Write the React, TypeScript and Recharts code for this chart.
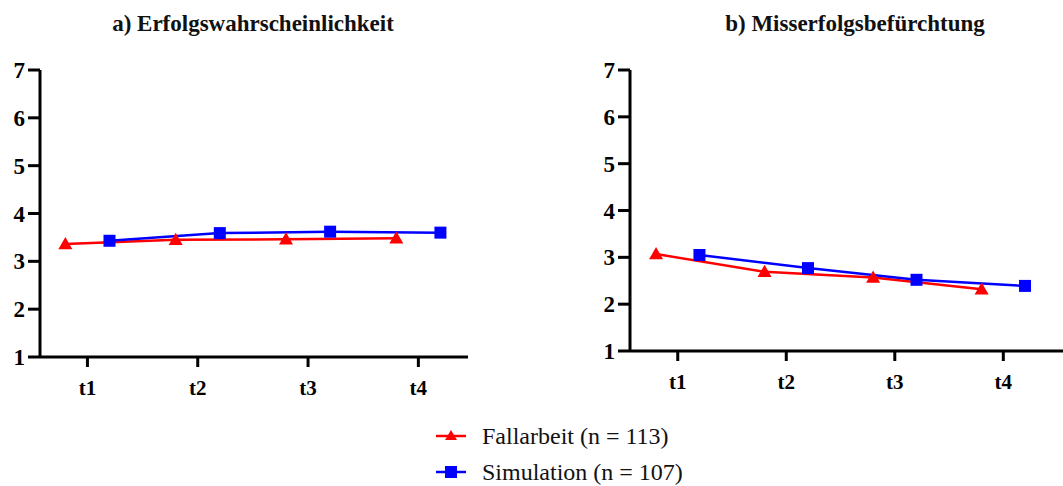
import { LineChart, Line, XAxis, YAxis } from 'recharts'

const timepoints = ['t1', 't2', 't3', 't4']
const yTicks = [1, 2, 3, 4, 5, 6, 7]

// a) Erfolgswahrscheinlichkeit
const erfolgFallarbeit = [3.36, 3.45, 3.46, 3.48]
const erfolgSimulation = [3.43, 3.59, 3.62, 3.6]

// b) Misserfolgsbefürchtung
const misserfolgFallarbeit = [3.07, 2.69, 2.57, 2.32]
const misserfolgSimulation = [3.05, 2.77, 2.52, 2.39]

const RED = '#ff0000'
const BLUE = '#0000ff'
const FONT = "'Liberation Serif', 'Times New Roman', serif"

// groups are dodged left/right of each time point
const toPoints = (vals: number[], shift: number) =>
  vals.map((y, i) => ({ x: i + 1 + shift, y }))

function TriangleDot(props: any) {
  const { cx, cy } = props
  if (cx == null || cy == null) return null
  const s = 7
  return (
    <polygon
      points={`${cx},${cy - s} ${cx - s},${cy + s * 0.75} ${cx + s},${cy + s * 0.75}`}
      fill={RED}
    />
  )
}

function SquareDot(props: any) {
  const { cx, cy } = props
  if (cx == null || cy == null) return null
  const s = 6
  return <rect x={cx - s} y={cy - s} width={s * 2} height={s * 2} fill={BLUE} />
}

const renderXTick = (props: any) => {
  const { x, y, payload } = props
  return (
    <text x={x} y={y + 22} textAnchor="middle" fill="#000"
      fontFamily={FONT} fontSize={21} fontWeight={700}>
      {timepoints[payload.value - 1]}
    </text>
  )
}

const renderYTick = (props: any) => {
  const { x, y, payload } = props
  return (
    <text x={x} y={y + 8} textAnchor="end" fill="#000"
      fontFamily={FONT} fontSize={23} fontWeight={700}>
      {payload.value}
    </text>
  )
}

interface PanelProps {
  red: number[]
  blue: number[]
  width: number
  height: number
  yWidth: number
  xDomain: [number, number]
  rightMargin: number
}

function Panel({ red, blue, width, height, yWidth, xDomain, rightMargin }: PanelProps) {
  const axisStyle = { stroke: '#000', strokeWidth: 3 }
  return (
    <LineChart width={width} height={height} margin={{ top: 70, right: rightMargin, left: 0, bottom: 0 }}>
      <XAxis
        type="number"
        dataKey="x"
        domain={xDomain}
        allowDataOverflow
        ticks={[1, 2, 3, 4]}
        axisLine={axisStyle}
        tickLine={axisStyle}
        tickSize={10}
        tickMargin={6}
        height={43}
        tick={renderXTick}
      />
      <YAxis
        type="number"
        domain={[1, 7]}
        ticks={yTicks}
        width={yWidth}
        axisLine={axisStyle}
        tickLine={axisStyle}
        tickSize={12}
        tickMargin={3}
        tick={renderYTick}
      />
      <Line
        data={toPoints(red, -0.2)}
        dataKey="y"
        stroke={RED}
        strokeWidth={2.5}
        dot={<TriangleDot />}
        isAnimationActive={false}
      />
      <Line
        data={toPoints(blue, 0.2)}
        dataKey="y"
        stroke={BLUE}
        strokeWidth={2.5}
        dot={<SquareDot />}
        isAnimationActive={false}
      />
    </LineChart>
  )
}

function LegendRow({ color, shape, label, top }: { color: string; shape: 'tri' | 'sq'; label: string; top: number }) {
  return (
    <div style={{ position: 'absolute', left: 434, top, height: 26, display: 'flex', alignItems: 'center' }}>
      <svg width={34} height={20}>
        <line x1={2} y1={10} x2={32} y2={10} stroke={color} strokeWidth={2.5} />
        {shape === 'tri' ? (
          <polygon points="17,4 11,14 23,14" fill={color} />
        ) : (
          <rect x={11} y={4} width={12} height={12} fill={color} />
        )}
      </svg>
      <span style={{ marginLeft: 14, fontFamily: FONT, fontSize: 24, color: '#111' }}>{label}</span>
    </div>
  )
}

export default function App() {
  const titleStyle: React.CSSProperties = {
    position: 'absolute',
    top: 11,
    fontFamily: FONT,
    fontWeight: 700,
    fontSize: 23,
    color: '#111',
    transform: 'translateX(-50%)',
    whiteSpace: 'nowrap',
  }
  return (
    <div style={{ position: 'absolute', left: 0, top: 0, width: 1063, height: 486, background: '#fff', overflow: 'hidden' }}>
      <div style={{ ...titleStyle, left: 253 }}>a) Erfolgswahrscheinlichkeit</div>
      <div style={{ ...titleStyle, left: 855 }}>b) Misserfolgsbefürchtung</div>
      <div style={{ position: 'absolute', left: 0, top: 0 }}>
        <Panel
          red={erfolgFallarbeit}
          blue={erfolgSimulation}
          width={480}
          height={400}
          yWidth={40}
          xDomain={[0.57, 4.45]}
          rightMargin={12}
        />
      </div>
      <div style={{ position: 'absolute', left: 590, top: 0 }}>
        <Panel
          red={misserfolgFallarbeit}
          blue={misserfolgSimulation}
          width={473}
          height={394}
          yWidth={40}
          xDomain={[0.56, 4.55]}
          rightMargin={0}
        />
      </div>
      <LegendRow color={RED} shape="tri" label="Fallarbeit (n = 113)" top={423} />
      <LegendRow color={BLUE} shape="sq" label="Simulation (n = 107)" top={459} />
    </div>
  )
}
